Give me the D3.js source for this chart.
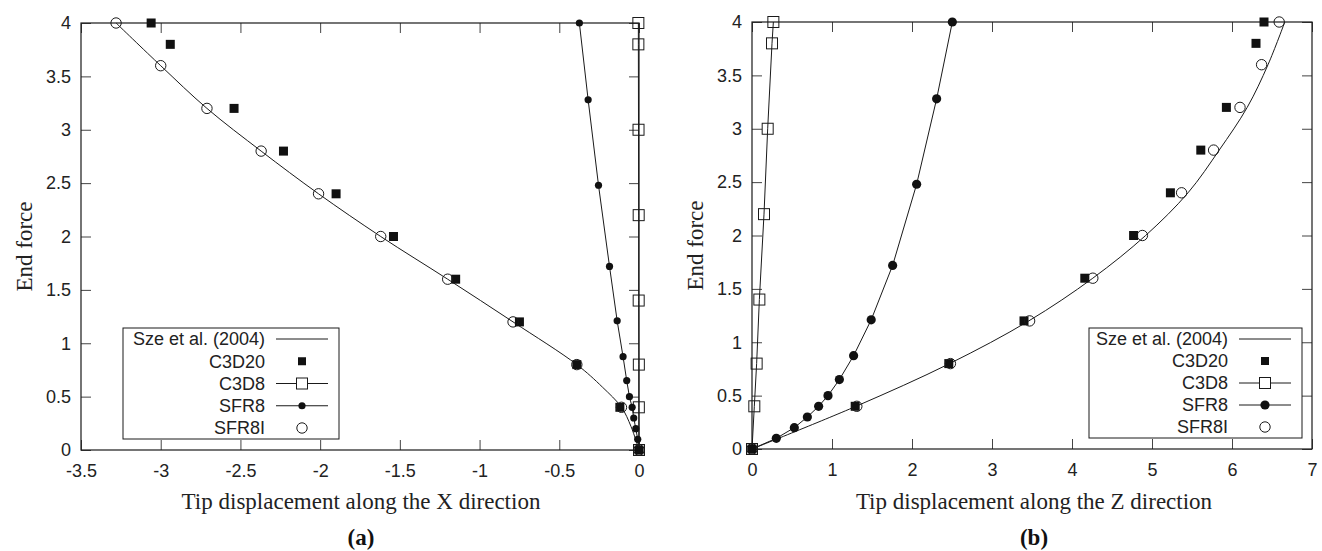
<!DOCTYPE html>
<html>
<head>
<meta charset="utf-8">
<script src="https://cdn.jsdelivr.net/npm/d3@7"></script>
<style>
  html, body { margin: 0; padding: 0; background: #fff; }
  svg { display: block; }
  .tick-label { font-family: "Liberation Sans", Arial, sans-serif; font-size: 18px; fill: #222; }
  .axis-title { font-family: "Liberation Serif", "Times New Roman", serif; font-size: 23px; fill: #222; }
  .panel-tag { font-family: "Liberation Serif", "Times New Roman", serif; font-size: 23px; font-weight: bold; fill: #111; }
  .legend-text { font-family: "Liberation Sans", Arial, sans-serif; font-size: 18px; fill: #222; }
</style>
</head>
<body>
<div id="chart"></div>
<script>
// ---- data: panel (a), tip displacement along X ----
const szeX      = [-3.28, -3.0, -2.71, -2.37, -2.01, -1.62, -1.2, -0.79, -0.39, -0.23, -0.11, -0.05, 0];
const szeXForce = [4, 3.6, 3.2, 2.8, 2.4, 2.0, 1.6, 1.2, 0.8, 0.59, 0.4, 0.22, 0];
const c3d20X      = [-3.06, -2.94, -2.54, -2.23, -1.90, -1.54, -1.15, -0.75, -0.39, -0.12, 0];
const c3d20XForce = [4, 3.8, 3.2, 2.8, 2.4, 2.0, 1.6, 1.2, 0.8, 0.4, 0];
const c3d8X      = [-0.004, -0.004, -0.003, -0.002, -0.002, -0.001, -0.001, 0];
const c3d8XForce = [4, 3.8, 3.0, 2.2, 1.4, 0.8, 0.4, 0];
const sfr8X      = [-0.374, -0.319, -0.254, -0.185, -0.137, -0.100, -0.077, -0.060, -0.043, -0.033, -0.020, -0.008, 0];
const sfr8XForce = [4, 3.28, 2.48, 1.72, 1.21, 0.874, 0.65, 0.5, 0.4, 0.3, 0.2, 0.1, 0];
const sfr8iX      = [-3.28, -3.0, -2.71, -2.37, -2.01, -1.62, -1.2, -0.79, -0.39, -0.11, 0];
const sfr8iXForce = [4, 3.6, 3.2, 2.8, 2.4, 2.0, 1.6, 1.2, 0.8, 0.4, 0];

// ---- data: panel (b), tip displacement along Z ----
const szeZ      = [0, 1.3, 2.47, 3.46, 4.26, 4.92, 5.45, 5.84, 6.19, 6.45, 6.66];
const szeZForce = [0, 0.4, 0.8, 1.2, 1.6, 2.0, 2.4, 2.8, 3.2, 3.6, 4.0];
const c3d20Z      = [0, 1.29, 2.46, 3.40, 4.16, 4.77, 5.23, 5.61, 5.93, 6.30, 6.40];
const c3d20ZForce = [0, 0.4, 0.8, 1.2, 1.6, 2.0, 2.4, 2.8, 3.2, 3.8, 4.0];
const c3d8Z      = [0, 0.029, 0.058, 0.092, 0.15, 0.196, 0.25, 0.267];
const c3d8ZForce = [0, 0.4, 0.8, 1.4, 2.2, 3.0, 3.8, 4.0];
const sfr8Z      = [0, 0.304, 0.529, 0.692, 0.833, 0.95, 1.092, 1.27, 1.49, 1.758, 2.058, 2.308, 2.504];
const sfr8ZForce = [0, 0.1, 0.2, 0.3, 0.4, 0.5, 0.65, 0.874, 1.21, 1.72, 2.48, 3.28, 4.0];
const sfr8iZ      = [0, 1.31, 2.48, 3.47, 4.26, 4.88, 5.37, 5.77, 6.10, 6.37, 6.59];
const sfr8iZForce = [0, 0.4, 0.8, 1.2, 1.6, 2.0, 2.4, 2.8, 3.2, 3.6, 4.0];

// ---- ticks / labels ----
const xTicksA = [-3.5, -3, -2.5, -2, -1.5, -1, -0.5, 0];
const xTicksB = [0, 1, 2, 3, 4, 5, 6, 7];
const forceTicks = [0, 0.5, 1, 1.5, 2, 2.5, 3, 3.5, 4];
const legendLabels = ['Sze et al. (2004)', 'C3D20', 'C3D8', 'SFR8', 'SFR8I'];

const W = 1322, H = 551;
const INK = '#1a1a1a';

const svg = d3.select('#chart').append('svg')
  .attr('width', W).attr('height', H);

const zip = (xs, ys) => xs.map((x, i) => [x, ys[i]]);

function drawPanel(cfg) {
  const x = d3.scaleLinear().domain(cfg.xDomain).range([cfg.box.left, cfg.box.right]);
  const y = d3.scaleLinear().domain([0, 4]).range([cfg.box.bottom, cfg.box.top]);
  const g = svg.append('g');
  const fmt = d => String(d);

  // axes, ticks pointing inward, mirrored on top / right
  const styleAxis = ax => {
    ax.select('.domain').remove();
    ax.selectAll('.tick line').attr('stroke', '#444');
    ax.selectAll('.tick text').attr('class', 'tick-label').attr('fill', null);
  };
  g.append('g').attr('transform', `translate(0,${cfg.box.bottom})`)
    .call(d3.axisBottom(x).tickValues(cfg.xTicks).tickFormat(fmt).tickSize(-10).tickPadding(14))
    .call(styleAxis);
  g.append('g').attr('transform', `translate(0,${cfg.box.top})`)
    .call(d3.axisTop(x).tickValues(cfg.xTicks).tickFormat('').tickSize(-10))
    .call(styleAxis);
  g.append('g').attr('transform', `translate(${cfg.box.left},0)`)
    .call(d3.axisLeft(y).tickValues(forceTicks).tickFormat(fmt).tickSize(-10).tickPadding(10))
    .call(styleAxis);
  g.append('g').attr('transform', `translate(${cfg.box.right},0)`)
    .call(d3.axisRight(y).tickValues(forceTicks).tickFormat('').tickSize(-10))
    .call(styleAxis);

  g.append('rect')
    .attr('x', cfg.box.left).attr('y', cfg.box.top)
    .attr('width', cfg.box.right - cfg.box.left)
    .attr('height', cfg.box.bottom - cfg.box.top)
    .attr('fill', 'none').attr('stroke', INK).attr('stroke-width', 1.2);

  const plot = g.append('g');
  const lineStraight = d3.line().x(d => x(d[0])).y(d => y(d[1]));
  const lineSmooth = d3.line().x(d => x(d[0])).y(d => y(d[1])).curve(d3.curveCatmullRom.alpha(0.5));

  // Sze et al. reference curve
  const sze = zip(cfg.sze[0], cfg.sze[1]).sort((a, b) => a[1] - b[1]);
  plot.append('path').datum(sze)
    .attr('d', lineSmooth).attr('fill', 'none').attr('stroke', INK).attr('stroke-width', 1);

  // C3D20 filled squares
  plot.selectAll('.c3d20').data(zip(cfg.c3d20[0], cfg.c3d20[1])).join('rect')
    .attr('class', 'c3d20')
    .attr('x', d => x(d[0]) - 4.5).attr('y', d => y(d[1]) - 4.5)
    .attr('width', 9).attr('height', 9).attr('fill', '#111');

  // C3D8 open squares with line
  const c3d8 = zip(cfg.c3d8[0], cfg.c3d8[1]);
  plot.append('path').datum(c3d8)
    .attr('d', lineStraight).attr('fill', 'none').attr('stroke', INK).attr('stroke-width', 1);
  plot.selectAll('.c3d8').data(c3d8).join('rect')
    .attr('class', 'c3d8')
    .attr('x', d => x(d[0]) - 5.5).attr('y', d => y(d[1]) - 5.5)
    .attr('width', 11).attr('height', 11)
    .attr('fill', 'none').attr('stroke', INK).attr('stroke-width', 1);

  // SFR8 filled dots with line
  const sfr8 = zip(cfg.sfr8[0], cfg.sfr8[1]);
  plot.append('path').datum(sfr8)
    .attr('d', lineStraight).attr('fill', 'none').attr('stroke', INK).attr('stroke-width', 1);
  plot.selectAll('.sfr8').data(sfr8).join('circle')
    .attr('class', 'sfr8')
    .attr('cx', d => x(d[0])).attr('cy', d => y(d[1]))
    .attr('r', cfg.dotR).attr('fill', '#111');

  // SFR8I open circles
  plot.selectAll('.sfr8i').data(zip(cfg.sfr8i[0], cfg.sfr8i[1])).join('circle')
    .attr('class', 'sfr8i')
    .attr('cx', d => x(d[0])).attr('cy', d => y(d[1]))
    .attr('r', 5.2).attr('fill', 'none').attr('stroke', INK).attr('stroke-width', 1);

  // axis titles
  g.append('text').attr('class', 'axis-title')
    .attr('transform', `translate(${cfg.yTitleX},${(cfg.box.top + cfg.box.bottom) / 2 + 10}) rotate(-90)`)
    .attr('text-anchor', 'middle').text('End force');
  g.append('text').attr('class', 'axis-title')
    .attr('x', cfg.xTitleX).attr('y', 509).attr('text-anchor', 'middle').text(cfg.xTitle);
  g.append('text').attr('class', 'panel-tag')
    .attr('x', cfg.xTitleX).attr('y', 545).attr('text-anchor', 'middle').text(cfg.tag);

  // legend
  const L = cfg.legend;
  const lg = g.append('g');
  lg.append('rect')
    .attr('x', L.left).attr('y', L.top).attr('width', L.width).attr('height', L.height)
    .attr('fill', '#fff').attr('stroke', INK).attr('stroke-width', 1);
  const rowY = d3.scalePoint().domain(legendLabels).range([L.top + 11, L.top + L.height - 11]);
  const sx0 = L.textRight + 11, sx1 = L.textRight + 63, sxm = (sx0 + sx1) / 2;
  legendLabels.forEach(label => {
    const ry = rowY(label);
    lg.append('text').attr('class', 'legend-text')
      .attr('x', L.textRight).attr('y', ry).attr('dy', '0.35em')
      .attr('text-anchor', 'end').text(label);
  });
  const yS = rowY('Sze et al. (2004)'), y20 = rowY('C3D20'), y8 = rowY('C3D8'),
        yF = rowY('SFR8'), yI = rowY('SFR8I');
  lg.append('line').attr('x1', sx0).attr('x2', sx1).attr('y1', yS).attr('y2', yS)
    .attr('stroke', INK).attr('stroke-width', 1);
  lg.append('rect').attr('x', sxm - 4).attr('y', y20 - 4).attr('width', 8).attr('height', 8).attr('fill', '#111');
  lg.append('line').attr('x1', sx0).attr('x2', sx1).attr('y1', y8).attr('y2', y8)
    .attr('stroke', INK).attr('stroke-width', 1);
  lg.append('rect').attr('x', sxm - 5.5).attr('y', y8 - 5.5).attr('width', 11).attr('height', 11)
    .attr('fill', '#fff').attr('stroke', INK).attr('stroke-width', 1);
  lg.append('line').attr('x1', sx0).attr('x2', sx1).attr('y1', yF).attr('y2', yF)
    .attr('stroke', INK).attr('stroke-width', 1);
  lg.append('circle').attr('cx', sxm).attr('cy', yF).attr('r', cfg.dotR).attr('fill', '#111');
  lg.append('circle').attr('cx', sxm).attr('cy', yI).attr('r', 5.2)
    .attr('fill', 'none').attr('stroke', INK).attr('stroke-width', 1);
}

drawPanel({
  box: { left: 81, right: 639, top: 23, bottom: 450 },
  xDomain: [-3.5, 0], xTicks: xTicksA,
  sze: [szeX, szeXForce], c3d20: [c3d20X, c3d20XForce], c3d8: [c3d8X, c3d8XForce],
  sfr8: [sfr8X, sfr8XForce], sfr8i: [sfr8iX, sfr8iXForce],
  dotR: 3.6,
  yTitleX: 32, xTitleX: 361, xTitle: 'Tip displacement along the X direction', tag: '(a)',
  legend: { left: 123, top: 328, width: 216, height: 111, textRight: 265 }
});

drawPanel({
  box: { left: 752, right: 1312, top: 22, bottom: 449 },
  xDomain: [0, 7], xTicks: xTicksB,
  sze: [szeZ, szeZForce], c3d20: [c3d20Z, c3d20ZForce], c3d8: [c3d8Z, c3d8ZForce],
  sfr8: [sfr8Z, sfr8ZForce], sfr8i: [sfr8iZ, sfr8iZForce],
  dotR: 4.6,
  yTitleX: 703, xTitleX: 1034, xTitle: 'Tip displacement along the Z direction', tag: '(b)',
  legend: { left: 1089, top: 328, width: 213, height: 110, textRight: 1228 }
});
</script>
</body>
</html>
